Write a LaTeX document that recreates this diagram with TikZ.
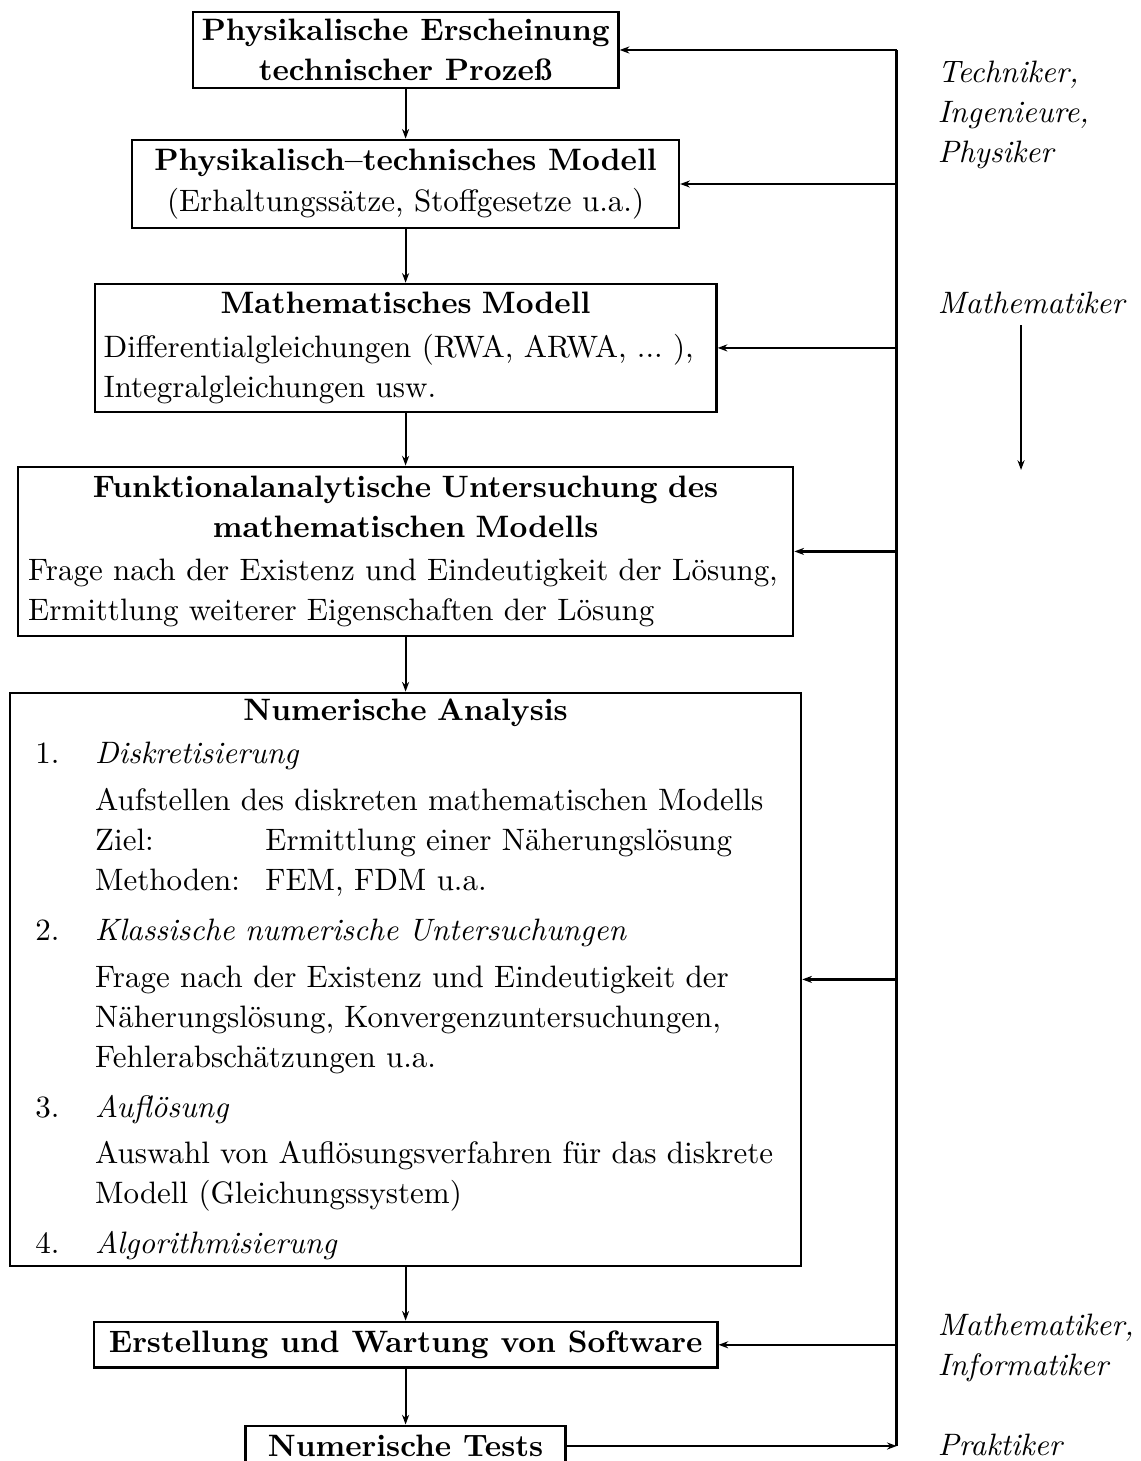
\documentclass[tikz,border=0pt]{standalone}
\usepackage{fontspec}
\usetikzlibrary{arrows.meta,positioning,calc}
\tikzset{
  stagebox/.style={draw=black,line width=0.8pt,align=center,inner xsep=0.1cm,inner ysep=0.05cm,font=\fontsize{10}{13}\selectfont},
  titlebox/.style={stagebox,font=\bfseries\fontsize{10}{13}\selectfont},
  downarrow/.style={-{Stealth[length=1.1mm,width=0.8mm]},line width=0.6pt},
  feedarrow/.style={-{Stealth[length=1.1mm,width=0.8mm]},line width=0.8pt},
  feedline/.style={line width=1pt},
  rolelabel/.style={align=left,anchor=west,inner sep=0pt,font=\itshape\fontsize{10}{13}\selectfont}
}
\newcommand{\boxtitle}[1]{\makebox[\linewidth]{\bfseries #1}}
\newcommand{\nalabel}[1]{\makebox[0.68cm][l]{#1}}
\newcommand{\naindent}{\hspace*{0.68cm}}

\begin{document}
\begin{tikzpicture}
\useasboundingbox (0,0) rectangle (12.94,-16.57);
% chain of stages
\node[titlebox,minimum width=4.77cm,minimum height=0.86cm] (phys) at (4.60,-0.567)
  {Physikalische Erscheinung\\ technischer Prozeß};
\node[stagebox,minimum width=6.20cm,minimum height=1.0cm] (ptm) at (4.60,-2.087)
  {\textbf{Physikalisch--technisches Modell}\\ (Erhaltungssätze, Stoffgesetze u.a.)};
\node[stagebox,align=left,text width=6.85cm,minimum height=1.45cm] (mathm) at (4.60,-3.946)
  {\boxtitle{Mathematisches Modell}\\[1pt]
   Differentialgleichungen (RWA, ARWA, ...\ ),\\
   Integralgleichungen usw.};
\node[stagebox,align=left,inner xsep=0.115cm,text width=8.56cm,minimum height=1.92cm] (funk) at (4.60,-6.254)
  {\boxtitle{Funktionalanalytische Untersuchung des}\\
   \boxtitle{mathematischen Modells}\\[1pt]
   Frage nach der Existenz und Eindeutigkeit der Lösung,\\
   Ermittlung weiterer Eigenschaften der Lösung};
\node[stagebox,align=left,inner xsep=0.285cm,text width=8.40cm,minimum height=6.50cm] (numa) at (4.60,-11.108)
  {\boxtitle{Numerische Analysis}\\[1pt]
   \nalabel{1.}\textit{Diskretisierung}\\[2pt]
   \naindent Aufstellen des diskreten mathematischen Modells\\
   \naindent\makebox[1.93cm][l]{Ziel:}Ermittlung einer Näherungslösung\\
   \naindent\makebox[1.93cm][l]{Methoden:}FEM, FDM u.a.\\[3pt]
   \nalabel{2.}\textit{Klassische numerische Untersuchungen}\\[2pt]
   \naindent Frage nach der Existenz und Eindeutigkeit der\\
   \naindent Näherungslösung, Konvergenzuntersuchungen,\\
   \naindent Fehlerabschätzungen u.a.\\[3pt]
   \nalabel{3.}\textit{Auflösung}\\[2pt]
   \naindent Auswahl von Auflösungsverfahren für das diskrete\\
   \naindent Modell (Gleichungssystem)\\[3pt]
   \nalabel{4.}\textit{Algorithmisierung}};
\node[titlebox,minimum width=7.07cm,minimum height=0.52cm] (soft) at (4.60,-15.252)
  {Erstellung und Wartung von Software};
\node[titlebox,minimum width=3.63cm,minimum height=0.46cm] (tests) at (4.60,-16.40)
  {Numerische Tests};
\foreach \a/\b in {phys/ptm,ptm/mathm,mathm/funk,funk/numa,numa/soft,soft/tests}
  \draw[downarrow] (\a.south) -- (\b.north);
% feedback rail
\coordinate (rail) at (10.17,0);
\draw[feedarrow] (tests.east) -- (tests.east -| rail);
\draw[feedline] (tests.east -| rail) -- (phys.east -| rail);
\foreach \n in {phys,ptm,mathm,funk,numa,soft}
  \draw[feedarrow] (\n.east -| rail) -- (\n.east);
% who works on which stage
\node[rolelabel] (techs) at (10.63,-1.304) {Techniker,\\ Ingenieure,\\ Physiker};
\node[rolelabel] (mathA) at (10.63,-3.436) {Mathematiker};
\coordinate (mathEnd) at (11.58,-5.33);
\draw[downarrow,shorten <=1.2mm] (mathA.south -| mathEnd) -- (mathEnd);
\node[rolelabel] (mathInf) at (10.63,-15.29) {Mathematiker,\\ Informatiker};
\node[rolelabel] (prakt) at (10.63,-16.39) {Praktiker};
\end{tikzpicture}
\end{document}
